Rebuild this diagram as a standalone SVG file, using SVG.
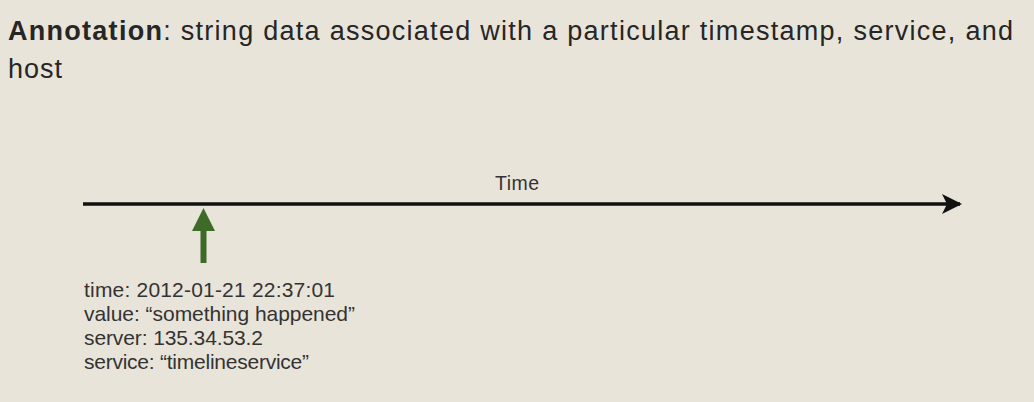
<svg xmlns="http://www.w3.org/2000/svg" width="1034" height="402" viewBox="0 0 1034 402">
  <style>
    .t { font-family: "Liberation Sans", Arial, sans-serif; fill: #262626; }
    .title { font-size: 27px; }
    .data { font-size: 21px; fill: #333333; }
    .lbl { font-size: 19.5px; fill: #333333; }
  </style>
  <defs>
    <marker id="blackHead" viewBox="0 0 20 20" refX="18" refY="10" markerWidth="20" markerHeight="20" markerUnits="userSpaceOnUse" orient="auto">
      <path d="M0,0 L20,10 L0,20 L5,10 Z" fill="#111"/>
    </marker>
  </defs>
  <rect width="1034" height="402" fill="#e9e4d9"/>
  <g id="title">
    <text class="t title" x="8" y="40" textLength="1005" lengthAdjust="spacing"><tspan font-weight="bold">Annotation</tspan>: string data associated with a particular timestamp, service, and</text>
    <text class="t title" x="8" y="78" textLength="54" lengthAdjust="spacing">host</text>
  </g>
  <g id="connectors">
    <line x1="83" y1="204" x2="960" y2="204" stroke="#111" stroke-width="3.5" marker-end="url(#blackHead)"/>
  </g>
  <g id="time-axis-label">
    <text class="t lbl" x="495" y="190" textLength="44" lengthAdjust="spacing">Time</text>
  </g>
  <g id="annotation-marker">
    <rect x="200.5" y="228" width="6" height="35" fill="#3e6a28"/>
    <path d="M203.5,208 L215,231 L192,231 Z" fill="#3e6a28"/>
  </g>
  <g id="annotation-data">
    <text class="t data" x="84" y="297" textLength="251" lengthAdjust="spacing">time: 2012-01-21 22:37:01</text>
    <text class="t data" x="84" y="321" textLength="271" lengthAdjust="spacing">value: “something happened”</text>
    <text class="t data" x="84" y="345" textLength="179" lengthAdjust="spacing">server: 135.34.53.2</text>
    <text class="t data" x="84" y="369" textLength="225" lengthAdjust="spacing">service: “timelineservice”</text>
  </g>
</svg>
